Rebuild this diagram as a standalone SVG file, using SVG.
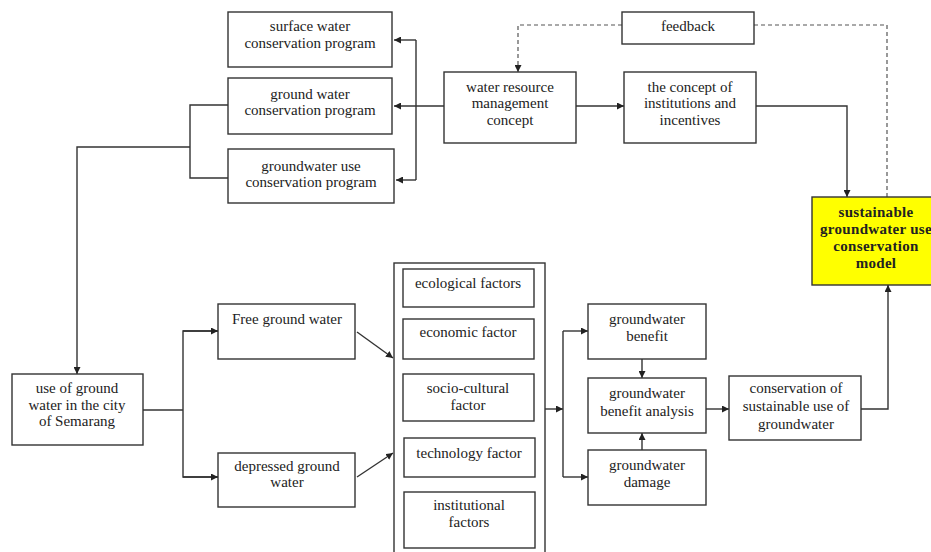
<svg xmlns="http://www.w3.org/2000/svg" width="931" height="552" viewBox="0 0 931 552" font-family="'Liberation Serif', 'Times New Roman', 'DejaVu Serif', serif">
<defs>
<marker id="ah" viewBox="0 0 10 10" refX="10" refY="5" markerWidth="7" markerHeight="7" markerUnits="userSpaceOnUse" orient="auto">
<path d="M0,0 L10,5 L0,10 z" fill="#222"/>
</marker>
<style>
.box{fill:#fff;stroke:#333;stroke-width:1.4}
.hl{fill:#ffff00;stroke:#333;stroke-width:1.4}
text{font-family:'Liberation Serif','Times New Roman','DejaVu Serif',serif;font-size:15px;fill:#222;text-anchor:middle}
.b{font-weight:bold;font-size:15px;letter-spacing:0.3px}
.c{fill:none;stroke:#333;stroke-width:1.4}
.d{fill:none;stroke:#555;stroke-width:1.2;stroke-dasharray:4 3}
</style>
</defs>
<rect width="931" height="552" fill="#fff"/>
<g id="connectors">
<polyline class="c" points="416,40 416,180"/>
<line class="c" x1="444" y1="106" x2="394" y2="106" marker-end="url(#ah)"/>
<line class="c" x1="416" y1="40" x2="394" y2="40" marker-end="url(#ah)"/>
<line class="c" x1="416" y1="180" x2="396" y2="180" marker-end="url(#ah)"/>
<line class="c" x1="576" y1="106" x2="624" y2="106" marker-end="url(#ah)"/>
<polyline class="c" points="756,106 847,106 847,197" marker-end="url(#ah)"/>
<polyline class="c" points="228,105 190,105 190,178 228,178"/>
<polyline class="c" points="190,147 77,147 77,374" marker-end="url(#ah)"/>
<polyline class="d" points="622,25 518,25 518,72" marker-end="url(#ah)"/>
<polyline class="d" points="754,25 887,25 887,197"/>
<line class="c" x1="143" y1="410" x2="183" y2="410"/>
<polyline class="c" points="218,331 183,331 183,477 218,477"/>
<line class="c" x1="183" y1="331" x2="218" y2="331" marker-end="url(#ah)"/>
<line class="c" x1="183" y1="477" x2="218" y2="477" marker-end="url(#ah)"/>
<line class="c" x1="357" y1="332" x2="393" y2="358" marker-end="url(#ah)"/>
<line class="c" x1="357" y1="477" x2="393" y2="453" marker-end="url(#ah)"/>
<line class="c" x1="545" y1="409" x2="563" y2="409" marker-end="url(#ah)"/>
<polyline class="c" points="563,331 563,477"/>
<line class="c" x1="563" y1="331" x2="588" y2="331" marker-end="url(#ah)"/>
<line class="c" x1="563" y1="477" x2="588" y2="477" marker-end="url(#ah)"/>
<line class="c" x1="642" y1="359" x2="642" y2="378" marker-end="url(#ah)"/>
<line class="c" x1="642" y1="450" x2="642" y2="433" marker-end="url(#ah)"/>
<line class="c" x1="706" y1="409" x2="729" y2="409" marker-end="url(#ah)"/>
<polyline class="c" points="861,409 888,409 888,285" marker-end="url(#ah)"/>
</g>
<g id="surface">
<rect class="box" x="228" y="12" width="164" height="55"/>
<text x="310" y="31">surface water</text>
<text x="310" y="48">conservation program</text>
</g>
<g id="groundwater-prog">
<rect class="box" x="228" y="78" width="164" height="56"/>
<text x="310" y="99">ground water</text>
<text x="310" y="115">conservation program</text>
</g>
<g id="gw-use-prog">
<rect class="box" x="228" y="149" width="166" height="54"/>
<text x="311" y="171">groundwater use</text>
<text x="311" y="187">conservation program</text>
</g>
<g id="water-resource">
<rect class="box" x="444" y="72" width="132" height="71"/>
<text x="510" y="92">water resource</text>
<text x="510" y="108">management</text>
<text x="510" y="125">concept</text>
</g>
<g id="feedback">
<rect class="box" x="622" y="12" width="132" height="32"/>
<text x="688" y="31">feedback</text>
</g>
<g id="institutions">
<rect class="box" x="624" y="72" width="132" height="71"/>
<text x="690" y="92">the concept of</text>
<text x="690" y="108">institutions and</text>
<text x="690" y="125">incentives</text>
</g>
<g id="model">
<rect class="hl" x="812" y="197" width="130" height="88"/>
<text class="b" x="876" y="217">sustainable</text>
<text class="b" x="876" y="234">groundwater use</text>
<text class="b" x="876" y="251">conservation</text>
<text class="b" x="876" y="268">model</text>
</g>
<g id="use-semarang">
<rect class="box" x="12" y="374" width="131" height="71"/>
<text x="77" y="393">use of ground</text>
<text x="77" y="410">water in the city</text>
<text x="77" y="426">of Semarang</text>
</g>
<g id="free">
<rect class="box" x="218" y="304" width="137" height="55"/>
<text x="287" y="324">Free ground water</text>
</g>
<g id="depressed">
<rect class="box" x="218" y="453" width="137" height="54"/>
<text x="287" y="471">depressed ground</text>
<text x="287" y="487">water</text>
</g>
<g id="factors">
<rect class="box" x="394" y="263" width="151" height="300"/>
<g id="ecological"><rect class="box" x="403" y="269" width="131" height="38"/><text x="468" y="288">ecological factors</text></g>
<g id="economic"><rect class="box" x="403" y="319" width="131" height="40"/><text x="468" y="337">economic factor</text></g>
<g id="socio"><rect class="box" x="403" y="374" width="131" height="47"/><text x="468" y="393">socio-cultural</text><text x="468" y="410">factor</text></g>
<g id="technology"><rect class="box" x="404" y="438" width="131" height="39"/><text x="469" y="458">technology factor</text></g>
<g id="institutional"><rect class="box" x="404" y="492" width="131" height="56"/><text x="469" y="510">institutional</text><text x="469" y="527">factors</text></g>
</g>
<g id="benefit">
<rect class="box" x="588" y="304" width="118" height="55"/>
<text x="647" y="324">groundwater</text>
<text x="647" y="341">benefit</text>
</g>
<g id="analysis">
<rect class="box" x="588" y="378" width="118" height="55"/>
<text x="647" y="398">groundwater</text>
<text x="647" y="416">benefit analysis</text>
</g>
<g id="damage">
<rect class="box" x="588" y="450" width="118" height="55"/>
<text x="647" y="470">groundwater</text>
<text x="647" y="487">damage</text>
</g>
<g id="conservation">
<rect class="box" x="729" y="376" width="132" height="64"/>
<text x="796" y="393">conservation of</text>
<text x="796" y="411">sustainable use of</text>
<text x="796" y="429">groundwater</text>
</g>
</svg>
